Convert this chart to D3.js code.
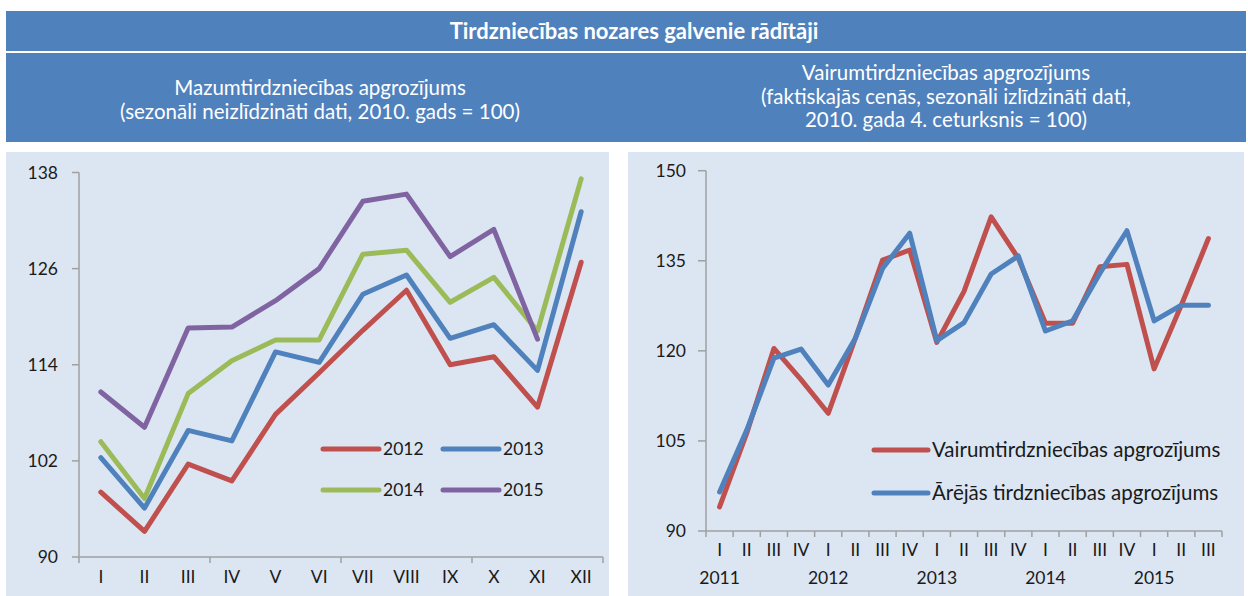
<!DOCTYPE html>
<html><head><meta charset="utf-8">
<script src="https://cdn.jsdelivr.net/npm/d3@7"></script>
<style>
body{margin:0;background:#fff;}
svg{display:block;}
text{font-family:Lato,"Open Sans",sans-serif;}
</style></head>
<body>
<script>
// ---- data ----
const title = "Tirdzniecības nozares galvenie rādītāji";
const leftTitle = ["Mazumtirdzniecības apgrozījums", "(sezonāli neizlīdzināti dati, 2010. gads = 100)"];
const rightTitle = ["Vairumtirdzniecības apgrozījums", "(faktiskajās cenās, sezonāli izlīdzināti dati,", "2010. gada 4. ceturksnis = 100)"];

const months = ["I","II","III","IV","V","VI","VII","VIII","IX","X","XI","XII"];
const years = ["2012","2013","2014","2015"];
const retail2012 = [98.1, 93.2, 101.6, 99.5, 107.8, 113.0, 118.3, 123.3, 114.0, 115.0, 108.7, 126.8];
const retail2013 = [102.4, 96.1, 105.8, 104.5, 115.6, 114.3, 122.8, 125.2, 117.3, 119.0, 113.3, 133.1];
const retail2014 = [104.4, 97.3, 110.4, 114.5, 117.1, 117.1, 127.8, 128.3, 121.8, 124.9, 118.2, 137.2];
const retail2015 = [110.6, 106.2, 118.6, 118.7, 122.0, 126.0, 134.4, 135.3, 127.5, 130.9, 117.2];
const leftTicks = [90, 102, 114, 126, 138];

const quarters = ["I","II","III","IV","I","II","III","IV","I","II","III","IV","I","II","III","IV","I","II","III"];
const quarterYears = ["2011","2012","2013","2014","2015"];
const wholesaleNames = ["Vairumtirdzniecības apgrozījums", "Ārējās tirdzniecības apgrozījums"];
const wholesale = [94.0, 106.3, 120.4, 115.2, 109.6, 122.1, 135.1, 136.8, 121.4, 129.9, 142.3, 135.4, 124.6, 124.6, 134.0, 134.4, 117.0, 127.6, 138.7];
const foreignTrade = [96.5, 106.8, 118.8, 120.3, 114.3, 122.1, 133.7, 139.6, 121.7, 124.7, 132.8, 135.8, 123.3, 125.0, 132.9, 140.0, 125.0, 127.6, 127.6];
const rightTicks = [90, 105, 120, 135, 150];

const leftColors = ["#C0504D", "#4F81BD", "#9BBB59", "#8064A2"];
const rightColors = ["#C0504D", "#4F81BD"];

// ---- layout ----
const W = 1248, H = 596;
const headBlue = "#4F81BD", panelBg = "#DCE6F2", axisCol = "#A0A0A0", txt = "#1a1a1a";
const svg = d3.select("body").append("svg").attr("width", W).attr("height", H);

svg.append("rect").attr("x",6).attr("y",11).attr("width",1240).attr("height",40).attr("fill",headBlue);
svg.append("rect").attr("x",6).attr("y",53).attr("width",1240).attr("height",89).attr("fill",headBlue);
svg.append("text").attr("x",634).attr("y",38.5).attr("text-anchor","middle").attr("fill","#fff")
  .attr("font-size",22).attr("font-weight","bold").text(title);
leftTitle.forEach((t,i)=>svg.append("text").attr("x",320).attr("y",95+i*23.5).attr("text-anchor","middle")
  .attr("fill","#fff").attr("font-size",20.5).text(t));
rightTitle.forEach((t,i)=>svg.append("text").attr("x",946).attr("y",80+i*23.5).attr("text-anchor","middle")
  .attr("fill","#fff").attr("font-size",20.5).text(t));

svg.append("rect").attr("x",6).attr("y",152).attr("width",603).attr("height",444).attr("fill",panelBg);
svg.append("rect").attr("x",628).attr("y",152).attr("width",616).attr("height",444).attr("fill",panelBg);

// ---- left chart ----
const xL = d3.scaleBand().domain(months).range([79, 603]);
const yL = d3.scaleLinear().domain([90, 138]).range([557, 172.5]);
const gL = svg.append("g");
gL.append("line").attr("x1",79).attr("x2",79).attr("y1",yL(138)).attr("y2",yL(90)).attr("stroke",axisCol).attr("stroke-width",1.5);
gL.append("line").attr("x1",79).attr("x2",603).attr("y1",yL(90)).attr("y2",yL(90)).attr("stroke",axisCol).attr("stroke-width",1.5);
leftTicks.forEach(v=>{
  gL.append("line").attr("x1",72).attr("x2",79).attr("y1",yL(v)).attr("y2",yL(v)).attr("stroke",axisCol).attr("stroke-width",1.5);
  gL.append("text").attr("x",58).attr("y",yL(v)+6).attr("text-anchor","end").attr("font-size",17.5).attr("fill",txt).text(v);
});
months.forEach((m,i)=>{
  if(i%3===0) gL.append("line").attr("x1",xL(m)).attr("x2",xL(m)).attr("y1",yL(90)).attr("y2",yL(90)+6).attr("stroke",axisCol).attr("stroke-width",1.5);
  gL.append("text").attr("x",xL(m)+xL.bandwidth()/2).attr("y",583).attr("text-anchor","middle").attr("font-size",17.5).attr("fill",txt).text(m);
});
gL.append("line").attr("x1",603).attr("x2",603).attr("y1",yL(90)).attr("y2",yL(90)+6).attr("stroke",axisCol).attr("stroke-width",1.5);

const lineL = d3.line().x((d,i)=>xL(months[i])+xL.bandwidth()/2).y(d=>yL(d));
[retail2012, retail2013, retail2014, retail2015].forEach((s,k)=>{
  gL.append("path").attr("d",lineL(s)).attr("fill","none").attr("stroke",leftColors[k])
    .attr("stroke-width",5).attr("stroke-linejoin","round").attr("stroke-linecap","round");
});
// legend
const legPos = [[323,449],[443,449],[323,490],[443,490]];
years.forEach((y,k)=>{
  const [lx,ly] = legPos[k];
  gL.append("line").attr("x1",lx).attr("x2",lx+56).attr("y1",ly).attr("y2",ly).attr("stroke",leftColors[k])
    .attr("stroke-width",5).attr("stroke-linecap","round");
  gL.append("text").attr("x",lx+60).attr("y",ly+6).attr("font-size",17.5).attr("fill",txt).text(y);
});

// ---- right chart ----
const xR = d3.scaleBand().domain(d3.range(quarters.length)).range([706, 1222]);
const yR = d3.scaleLinear().domain([90, 150]).range([531, 170.7]);
const gR = svg.append("g");
gR.append("line").attr("x1",706).attr("x2",706).attr("y1",yR(150)).attr("y2",yR(90)).attr("stroke",axisCol).attr("stroke-width",1.5);
gR.append("line").attr("x1",706).attr("x2",1222).attr("y1",yR(90)).attr("y2",yR(90)).attr("stroke",axisCol).attr("stroke-width",1.5);
rightTicks.forEach(v=>{
  gR.append("line").attr("x1",698).attr("x2",706).attr("y1",yR(v)).attr("y2",yR(v)).attr("stroke",axisCol).attr("stroke-width",1.5);
  gR.append("text").attr("x",686).attr("y",yR(v)+6).attr("text-anchor","end").attr("font-size",17.5).attr("fill",txt).text(v);
});
quarters.forEach((q,i)=>{
  gR.append("line").attr("x1",xR(i)).attr("x2",xR(i)).attr("y1",yR(90)).attr("y2",yR(90)+6).attr("stroke",axisCol).attr("stroke-width",1.5);
  gR.append("text").attr("x",xR(i)+xR.bandwidth()/2).attr("y",556).attr("text-anchor","middle").attr("font-size",17.5).attr("fill",txt).text(q);
});
gR.append("line").attr("x1",1222).attr("x2",1222).attr("y1",yR(90)).attr("y2",yR(90)+6).attr("stroke",axisCol).attr("stroke-width",1.5);
quarterYears.forEach((y,k)=>{
  gR.append("text").attr("x",xR(k*4)+xR.bandwidth()/2).attr("y",584).attr("text-anchor","middle").attr("font-size",17.5).attr("fill",txt).text(y);
});
const lineR = d3.line().x((d,i)=>xR(i)+xR.bandwidth()/2).y(d=>yR(d));
[wholesale, foreignTrade].forEach((s,k)=>{
  gR.append("path").attr("d",lineR(s)).attr("fill","none").attr("stroke",rightColors[k])
    .attr("stroke-width",5).attr("stroke-linejoin","round").attr("stroke-linecap","round");
});
wholesaleNames.forEach((n,k)=>{
  const ly = 450 + k*43;
  gR.append("line").attr("x1",874).attr("x2",928).attr("y1",ly).attr("y2",ly).attr("stroke",rightColors[k])
    .attr("stroke-width",5).attr("stroke-linecap","round");
  gR.append("text").attr("x",932).attr("y",ly+6.5).attr("font-size",20.5).attr("fill",txt).text(n);
});
</script>
</body></html>
